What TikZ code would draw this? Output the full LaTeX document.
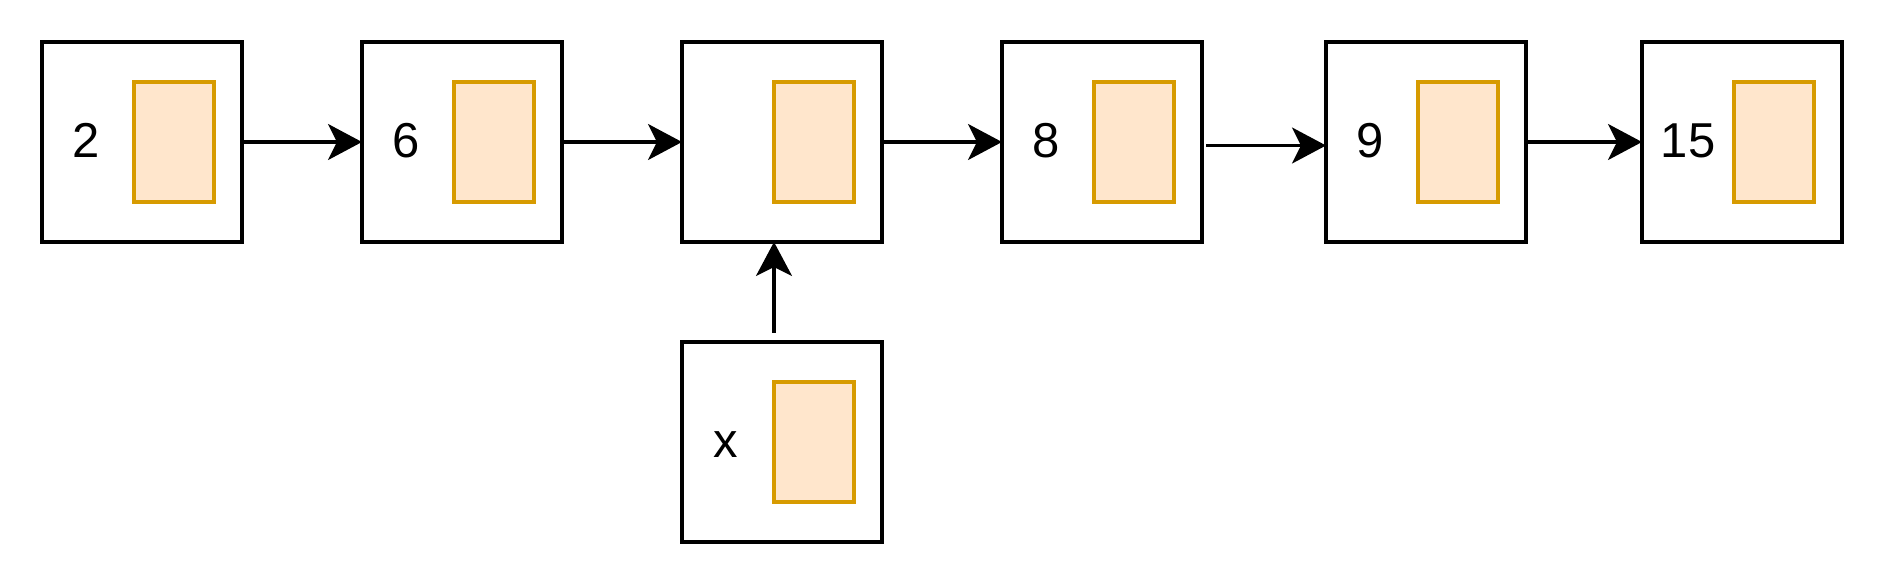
\documentclass[tikz,border=0pt]{standalone}
\usepackage{fontspec}
\setmainfont{Liberation Sans}
\usetikzlibrary{arrows.meta}
\definecolor{fillor}{HTML}{FFE6CC}
\definecolor{lineor}{HTML}{D79B00}
\begin{document}
\begin{tikzpicture}[x=1pt,y=-1pt,
 cell/.style={draw=black,line width=2.2pt,minimum width=100pt,minimum height=100pt,inner sep=0pt,outer sep=0pt,fill=white},
 ptr/.style={draw=lineor,fill=fillor,line width=1.8pt,minimum width=40pt,minimum height=60pt,inner sep=0pt,outer sep=0pt},
 val/.style={anchor=base,font=\fontsize{24.5}{28}\selectfont,inner sep=0pt},
 link/.style={-{Stealth[length=17pt,width=18pt,inset=4.5pt]},line width=1.6pt}]
\useasboundingbox (0,0) rectangle (942,292);
% cells
\node[cell] (b1) at (71,71) {};
\node[cell] (b2) at (231,71) {};
\node[cell] (b3) at (391,71) {};
\node[cell] (b4) at (551,71) {};
\node[cell] (b5) at (713,71) {};
\node[cell] (b6) at (871,71) {};
\node[cell] (bx) at (391,221) {};
% pointer fields
\node[ptr] (p1) at (87,71) {};
\node[ptr] (p2) at (247,71) {};
\node[ptr] (p3) at (407,71) {};
\node[ptr] (p4) at (567,71) {};
\node[ptr] (p5) at (729,71) {};
\node[ptr] (p6) at (887,71) {};
\node[ptr] (px) at (407,221) {};
% values
\node[val] (l1) at (43,78.5) {2};
\node[val] (l2) at (203,78.5) {6};
\node[val] (l4) at (523,78.5) {8};
\node[val] (l5) at (685,78.5) {9};
\node[val] (l6) at (844,78.5) {15};
\node[val] (lx) at (363,228.5) {x};
% links
\draw[link] (b1.east) -- (b2.west);
\draw[link] (b2.east) -- (b3.west);
\draw[link] (b3.east) -- (b4.west);
\coordinate (a4s) at (603,72.75);
\draw[link] (a4s) -- (a4s -| b5.west);
\draw[link] (b5.east) -- (b6.west);
\coordinate (axs) at (387,166.4);
\draw[link] (axs) -- (axs |- b3.south);
\end{tikzpicture}
\end{document}
